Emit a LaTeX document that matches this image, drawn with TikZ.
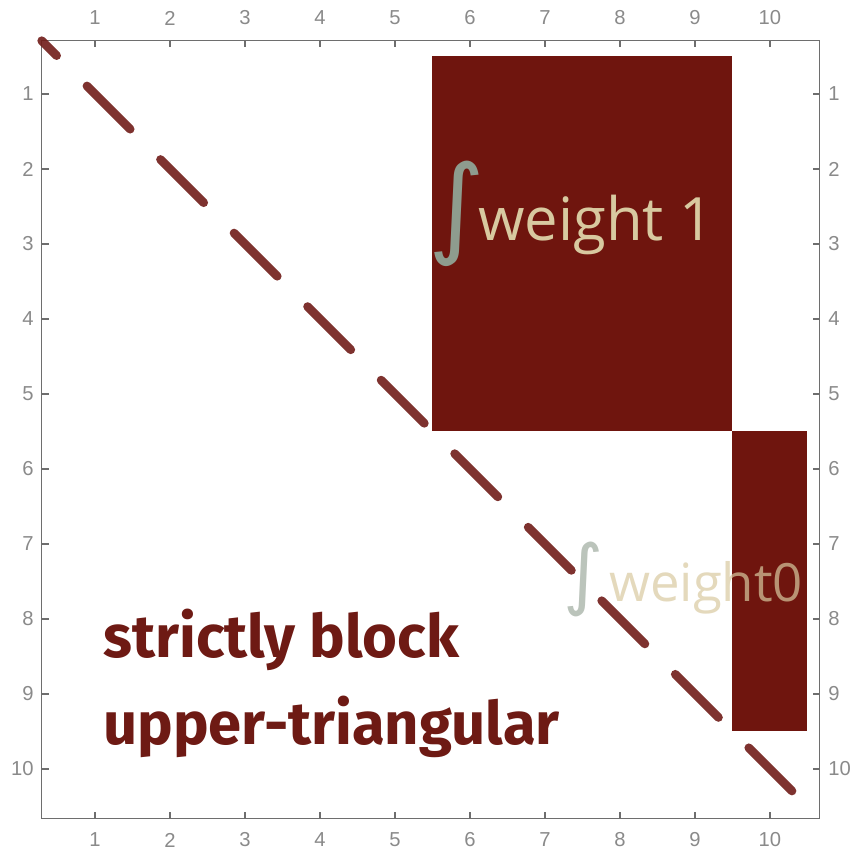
\documentclass[tikz,border=0pt]{standalone}
\usepackage{fontspec}
\setsansfont{Liberation Sans}
\newfontfamily\markerfont{Fira Sans}
\newfontfamily\chalkfont{Open Sans}
\newfontfamily\symfont{DejaVu Sans}
\usetikzlibrary{positioning}
\definecolor{blockred}{HTML}{6F150E}
\definecolor{inkred}{HTML}{6E1A14}
\definecolor{diagred}{HTML}{701C18}
\definecolor{axisgray}{HTML}{6E6E6E}
\definecolor{ticklabel}{HTML}{8A8A8A}
\definecolor{chalkbeige}{HTML}{D8C9A0}
\definecolor{chalkgreen}{HTML}{8E9C8E}

\begin{document}
\begin{tikzpicture}[x=1.5cm, y=-1.5cm,
    tickmark/.style={draw=axisgray, line width=0.6pt},
    ticklab/.style={font=\sffamily\fontsize{11.5}{11.5}\selectfont, text=ticklabel, inner sep=1pt}]
  \useasboundingbox (-0.2667,-0.2533) rectangle (11.147,11.12);

  % Blocks
  \fill[blockred] (5.5,0.5) rectangle (9.5,5.5);
  \fill[blockred] (9.5,5.5) rectangle (10.5,9.5);

  % Axes box and ticks
  \coordinate (tl) at (0.29,0.29);
  \coordinate (br) at (10.66,10.66);
  \draw[axisgray, line width=0.75pt] (tl) rectangle (br);
  \foreach \i in {1,...,10} {
    \draw[tickmark] (\i,0.29) -- ++(0,0.09);
    \draw[tickmark] (\i,10.66) -- ++(0,-0.09);
    \draw[tickmark] (0.29,\i) -- ++(0.09,0);
    \draw[tickmark] (10.66,\i) -- ++(-0.09,0);
    \node[ticklab] (top\i) at (\i,-0.013) {\i};
    \node[ticklab] (bot\i) at (\i,10.947) {\i};
    \node[ticklab, anchor=east] (left\i) at (0.21,\i) {\i};
    \node[ticklab, anchor=west] (right\i) at (10.75,\i) {\i};
  }

  % Chalk labels
  \node[chalkgreen, font=\symfont\fontsize{62}{62}\selectfont] (int1) at (5.82,2.6) {∫};
  \node[chalkbeige, anchor=base west, font=\chalkfont\fontsize{34}{34}\selectfont] (weight1) at (6.027,2.947) {weight 1};
  \node[chalkgreen, opacity=0.6, font=\symfont\fontsize{44}{44}\selectfont] (int0) at (7.52,7.47) {∫};
  \node[chalkbeige, opacity=0.7, anchor=base west, font=\chalkfont\fontsize{30}{30}\selectfont] (weight0) at (7.773,7.773) {weight0};

  \node[inkred, anchor=base west, align=left, inner sep=0pt,
    font=\markerfont\bfseries\fontsize{34}{50}\selectfont] (caption) at (1.107,9.68) {strictly block\\upper-triangular};

  % Diagonal
  \draw[diagred, opacity=0.9, line width=5pt, line cap=round,
    dash pattern=on 1.22cm off 0.86cm, dash phase=0.8cm] (tl) -- (br);
\end{tikzpicture}
\end{document}
